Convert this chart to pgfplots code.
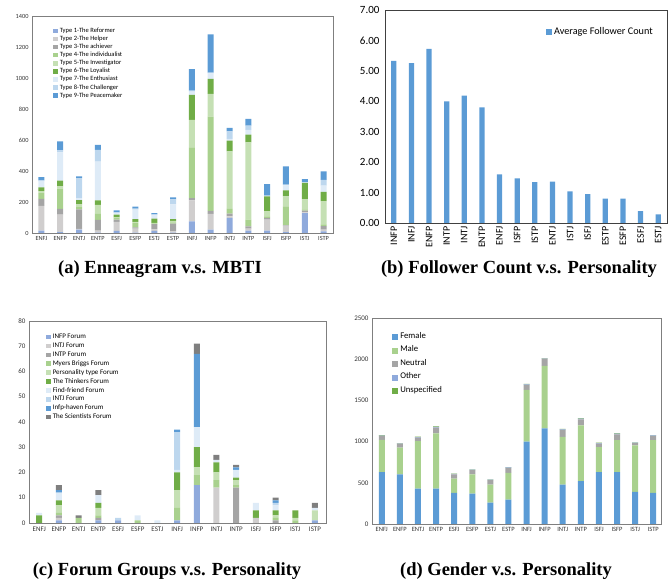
\documentclass[border=0pt]{standalone}
\usepackage{pgfplots}
\pgfplotsset{compat=1.18}
\usepackage{pgfplotstable}
\usepackage{fontspec}
\setmainfont{Carlito}
\newfontfamily\capfont{Liberation Serif}
\definecolor{c1}{HTML}{8FAADC}
\definecolor{c2}{HTML}{D0CECE}
\definecolor{c3}{HTML}{A5A5A5}
\definecolor{c4}{HTML}{A9D18E}
\definecolor{c5}{HTML}{C5E0B4}
\definecolor{c6}{HTML}{70AD47}
\definecolor{c7}{HTML}{DEEBF7}
\definecolor{c8}{HTML}{BDD7EE}
\definecolor{c9}{HTML}{5B9BD5}
\definecolor{c10}{HTML}{7F7F7F}
\definecolor{axgray}{HTML}{7F7F7F}

\pgfplotstableread{
x T1 T2 T3 T4 T5 T6 T7 T8 T9
0 15 160 45 40 10 25 40 5 20
1 6 112 37 131 15 37 182 13 58
2 21 6 125 15 17 28 13 129 11
3 3 13 69 39 58 28 251 75 32
4 13 58 15 11 4 17 11 4 13
5 2 26 9 30 5 18 60 8 12
6 13 11 34 4 4 26 22 6 8
7 2 8 50 8 10 12 95 32 13
8 75 135 15 327 178 161 21 6 140
9 21 103 19 608 146 97 35 6 247
10 97 11 17 30 372 69 11 49 22
11 15 13 15 43 499 49 32 26 45
12 15 71 11 11 32 97 2 2 75
13 5 42 3 122 64 39 32 5 118
14 128 5 12 8 65 105 2 2 20
15 10 12 22 12 150 60 40 37 55
}\tabA

\pgfplotstableread{
x v
0 5.33
1 5.25
2 5.72
3 4.00
4 4.19
5 3.80
6 1.60
7 1.47
8 1.34
9 1.36
10 1.04
11 0.95
12 0.80
13 0.80
14 0.39
15 0.28
}\tabB

\pgfplotstableread{
x F1 F2 F3 F4 F5 F6 F7 F8 F9 F10
0 0 0 0 0 0 3 1 0 0 0
1 1 1 1 1 3 2 3 0 1 2
2 0 0 0 2 0 0 0 0 0 1
3 1 0 1 1 3 2 3 0 0 2
4 1 0 0 0 0 0 0 1 0 0
5 0 0 0 1 0 0 2 0 0 0
6 0 0 0 0 0 0 1 0 0 0
7 1 0 0 5 7 7 1 15 1 0
8 15 0 0 4 3 8 8 0 29 4
9 0 14 0 3 3 4 1 0 0 2
10 0 0 14 1 2 1 3 0 1 1
11 0 2 0 0 0 3 3 0 0 0
12 0 0 1 1 1 2 2 1 1 1
13 0 0 0 1 1 3 0 0 0 0
14 1 0 0 0 4 0 1 0 0 2
}\tabC

\pgfplotstableread{
x Fe Ma Ne Ot Un
0 630 390 48 5 5
1 601 325 48 3 3
2 430 577 40 6 6
3 430 670 70 8 7
4 378 174 49 6 5
5 370 231 53 5 5
6 260 219 53 5 5
7 296 325 61 4 4
8 999 629 61 6 5
9 1161 759 86 4 3
10 479 577 85 7 6
11 520 678 73 7 6
12 629 305 40 8 6
13 629 390 69 8 8
14 390 564 28 5 5
15 378 641 49 6 6
}\tabD

\pgfplotsset{
  panel/.style={scale only axis, anchor=south west, ymin=0,
    axis line style={draw=axgray, line width=0.7pt},
    major tick length=0pt, tick style={draw=none},
    /pgf/number format/assume math mode=true,
    /pgf/number format/1000 sep={},
    legend cell align=left,
  },
  smallsq/.style={legend image code/.code={\path[##1, draw=none] (0pt,-2.2pt) rectangle (4.6pt,2.4pt);}},
  bigsq/.style={legend image code/.code={\path[##1, draw=none] (0pt,-3pt) rectangle (6pt,3pt);}},
}

\begin{document}
\begin{tikzpicture}
\useasboundingbox (0pt,0pt) rectangle (670pt,583pt);

% (a)
\begin{axis}[panel, at={(32pt,350pt)}, width=301pt, height=217pt,
  ybar stacked, bar width=6pt,
  xmin=-0.5, xmax=15.5, ymax=1400, ytick={0,200,...,1400},
  xtick={0,...,15},
  xticklabels={ENFJ,ENFP,ENTJ,ENTP,ESFJ,ESFP,ESTJ,ESTP,INFJ,INFP,INTJ,INTP,ISFJ,ISFP,ISTJ,ISTP},
  ticklabel style={font=\fontsize{6.3}{7}\selectfont, text=black!80},
  legend style={at={(0.06,0.96)}, anchor=north west, draw=none, fill=none,
    font=\fontsize{6.5}{7}\selectfont,
    nodes={inner ysep=0pt, inner xsep=2pt, text height=5.5pt, text depth=2.6pt}},
  smallsq,
]
\addplot[fill=c1, draw=none] table[x=x,y=T1]{\tabA};
\addplot[fill=c2, draw=none] table[x=x,y=T2]{\tabA};
\addplot[fill=c3, draw=none] table[x=x,y=T3]{\tabA};
\addplot[fill=c4, draw=none] table[x=x,y=T4]{\tabA};
\addplot[fill=c5, draw=none] table[x=x,y=T5]{\tabA};
\addplot[fill=c6, draw=none] table[x=x,y=T6]{\tabA};
\addplot[fill=c7, draw=none] table[x=x,y=T7]{\tabA};
\addplot[fill=c8, draw=none] table[x=x,y=T8]{\tabA};
\addplot[fill=c9, draw=none] table[x=x,y=T9]{\tabA};
\legend{Type 1-The Reformer,Type 2-The Helper,Type 3-The achiever,Type 4-The individualist,Type 5-The Investigator,Type 6-The Loyalist,Type 7-The Enthusiast,Type 8-The Challenger,Type 9-The Peacemaker}
\end{axis}

% (b)
\begin{axis}[panel, at={(385pt,360pt)}, width=282pt, height=213pt,
  ybar, bar width=5.3pt, bar shift=0pt,
  xmin=-0.5, xmax=15.5, ymax=7, ytick={0,1,...,7},
  yticklabel style={font=\fontsize{11}{12}\selectfont, xshift=-2pt,
    /pgf/number format/fixed, /pgf/number format/fixed zerofill,
    /pgf/number format/precision=2},
  xtick={0,...,15},
  xticklabels={INFP,INFJ,ENFP,INTP,INTJ,ENTP,ENFJ,ISFP,ISTP,ENTJ,ISTJ,ISFJ,ESTP,ESFP,ESFJ,ESTJ},
  xticklabel style={rotate=90, anchor=east, font=\fontsize{10}{11}\selectfont},
  axis line style={draw=black!75, line width=0.7pt},
  legend style={at={(0.56,0.897)}, anchor=west, draw=none, fill=none,
    font=\fontsize{10.2}{11}\selectfont},
  bigsq,
]
\addplot[fill=c9, draw=none] table[x=x,y=v]{\tabB};
\legend{Average Follower Count}
\end{axis}

% (c)
\begin{axis}[panel, at={(29pt,60pt)}, width=297pt, height=202pt,
  ybar stacked, bar width=6pt,
  xmin=-0.52, xmax=14.56, ymax=80, ytick={0,10,...,80},
  xtick={0,...,14},
  xticklabels={ENFJ,ENFP,ENTJ,ENTP,ESFJ,ESFP,ESTJ,INFJ,INFP,INTJ,INTP,ISFJ,ISFP,ISTJ,ISTP},
  ticklabel style={font=\fontsize{7}{8}\selectfont, text=black!80},
  legend style={at={(0.047,0.953)}, anchor=north west, draw=none, fill=none,
    font=\fontsize{7}{8}\selectfont,
    nodes={inner ysep=0pt, inner xsep=2pt, text height=6pt, text depth=2.9pt}},
  smallsq,
]
\addplot[fill=c1, draw=none] table[x=x,y=F1]{\tabC};
\addplot[fill=c2, draw=none] table[x=x,y=F2]{\tabC};
\addplot[fill=c3, draw=none] table[x=x,y=F3]{\tabC};
\addplot[fill=c4, draw=none] table[x=x,y=F4]{\tabC};
\addplot[fill=c5, draw=none] table[x=x,y=F5]{\tabC};
\addplot[fill=c6, draw=none] table[x=x,y=F6]{\tabC};
\addplot[fill=c7, draw=none] table[x=x,y=F7]{\tabC};
\addplot[fill=c8, draw=none] table[x=x,y=F8]{\tabC};
\addplot[fill=c9, draw=none] table[x=x,y=F9]{\tabC};
\addplot[fill=c10, draw=none] table[x=x,y=F10]{\tabC};
\legend{INFP Forum,INTJ Forum,INTP Forum,Myers Briggs Forum,Personality type Forum,The Thinkers Forum,Find-friend Forum,INTJ Forum,Infp-haven Forum,The Scientists Forum}
\end{axis}

% (d)
\begin{axis}[panel, at={(372pt,59pt)}, width=289pt, height=206pt,
  ybar stacked, bar width=6pt,
  xmin=-0.54, xmax=15.43, ymax=2500, ytick={0,500,...,2500},
  xtick={0,...,15},
  xticklabels={ENFJ,ENFP,ENTJ,ENTP,ESFJ,ESFP,ESTJ,ESTP,INFJ,INFP,INTJ,INTP,ISFJ,ISFP,ISTJ,ISTP},
  xticklabel style={font=\fontsize{6.5}{7}\selectfont, text=black!80},
  yticklabel style={font=\fontsize{7}{8}\selectfont, text=black!80},
  legend style={at={(0.059,0.95)}, anchor=north west, draw=none, fill=none,
    font=\fontsize{8.7}{9}\selectfont,
    nodes={inner ysep=0pt, inner xsep=2pt, text height=8pt, text depth=5.5pt}},
  bigsq,
]
\addplot[fill=c9, draw=none] table[x=x,y=Fe]{\tabD};
\addplot[fill=c4, draw=none] table[x=x,y=Ma]{\tabD};
\addplot[fill=c3, draw=none] table[x=x,y=Ne]{\tabD};
\addplot[fill=c1, draw=none] table[x=x,y=Ot]{\tabD};
\addplot[fill=c6, draw=none] table[x=x,y=Un]{\tabD};
\legend{Female,Male,Neutral,Other,Unspecified}
\end{axis}

\node[font=\capfont\bfseries\fontsize{18.5}{20}\selectfont] at (160pt,314pt) {(a) Enneagram v.s. MBTI};
\node[font=\capfont\bfseries\fontsize{18.5}{20}\selectfont] at (519pt,314pt) {(b) Follower Count v.s. Personality};
\node[font=\capfont\bfseries\fontsize{18.5}{20}\selectfont] at (167pt,12pt) {(c) Forum Groups v.s. Personality};
\node[font=\capfont\bfseries\fontsize{18.5}{20}\selectfont] at (506pt,12pt) {(d) Gender v.s. Personality};
\end{tikzpicture}
\end{document}
